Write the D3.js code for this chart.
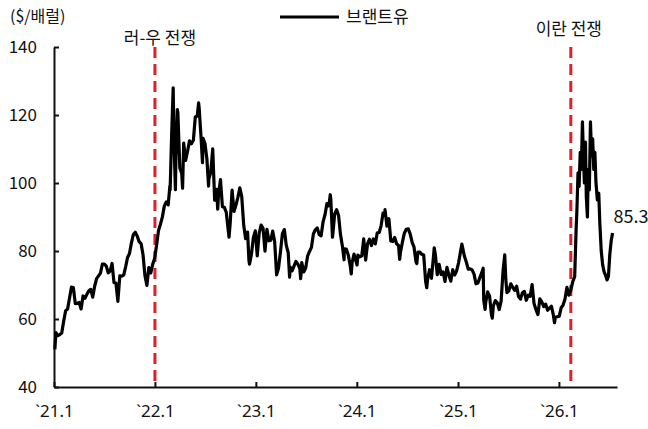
<!DOCTYPE html>
<html>
<head>
<meta charset="utf-8">
<script src="https://cdn.jsdelivr.net/npm/d3@7"></script>
<style>
  body { margin: 0; background: #fff; }
  svg { display: block; font-family: "Noto Sans CJK KR", "Noto Sans", sans-serif; }
</style>
</head>
<body>
<div id="chart"></div>
<script>
// weekly Brent closes ($/bbl), Fridays from 2021-01-08 on, 52 per year
var brent2021 = [55.99, 55.10, 55.41, 55.88, 59.34, 62.43, 62.91, 66.13, 69.36, 69.22, 64.53, 64.57,
  64.86, 62.95, 66.77, 66.11, 67.25, 68.28, 68.71, 66.44, 69.63, 71.89, 72.69, 73.51, 76.18,
  76.17, 75.55, 73.59, 74.10, 76.33, 70.70, 70.59, 65.18, 72.70, 72.61, 72.92, 75.34, 78.09,
  79.28, 82.39, 84.86, 85.53, 84.38, 82.74, 82.17, 78.89, 72.72, 69.88, 75.15, 73.52, 76.14, 77.78];
var brent2022 = [81.75, 86.06, 87.89, 90.03, 93.27, 94.44, 93.54, 97.93, 118.11, 112.67, 107.93, 120.65,
  104.39, 102.78, 111.70, 106.65, 109.34, 112.39, 111.55, 112.55, 119.43, 119.72, 122.01, 113.12, 113.12,
  111.63, 107.02, 101.16, 103.20, 110.01, 94.92, 98.15, 96.72, 100.99, 93.02, 92.84, 91.35, 86.15, 87.96,
  97.92, 91.63, 93.50, 95.77, 98.57, 95.99, 87.62, 83.63, 85.57, 76.10, 79.04, 83.92, 85.91];
var brent2023 = [78.57, 85.28, 87.63, 86.66, 79.94, 86.39, 83.00, 83.16, 85.83, 82.78, 72.97, 74.99, 79.77,
  85.12, 86.31, 81.66, 79.54, 75.30, 74.17, 75.58, 76.95, 76.13, 74.79, 76.61, 73.85, 74.90,
  78.47, 79.87, 81.07, 84.99, 86.24, 86.81, 84.80, 84.48, 88.55, 90.65, 93.93, 93.27, 95.31,
  84.58, 90.89, 92.16, 90.48, 84.89, 81.43, 80.61, 80.58, 78.88, 75.84, 76.55, 79.07, 77.04];
var brent2024 = [78.76, 78.29, 78.56, 83.55, 77.33, 82.19, 83.47, 81.62, 83.55, 82.08, 85.34, 85.43, 87.48,
  91.17, 90.45, 87.29, 89.50, 82.96, 82.79, 83.98, 82.12, 81.62, 79.62, 82.62, 85.24, 86.41,
  86.54, 85.03, 82.63, 81.13, 76.81, 79.66, 79.68, 79.02, 78.80, 71.06, 71.61, 74.49, 71.98,
  78.05, 79.04, 73.06, 76.05, 73.10, 73.87, 71.04, 75.17, 72.94, 71.12, 74.49, 72.94, 74.17];
var brent2025 = [76.51, 79.76, 81.29, 78.50, 76.76, 74.66, 74.74, 74.43, 73.18, 70.36, 70.58, 72.16, 73.63,
  65.58, 64.76, 67.96, 66.87, 61.29, 63.91, 65.41, 64.78, 62.78, 65.34, 74.23, 77.01, 67.77,
  68.30, 70.36, 69.28, 68.44, 69.67, 66.59, 65.85, 67.73, 68.12, 65.50, 66.99, 66.68, 70.13,
  64.53, 62.73, 61.29, 65.94, 65.07, 63.63, 64.39, 62.56, 63.20, 63.75, 61.12, 60.47, 60.64];

// in-between days that the weekly closes miss (spikes and dips)
var brentDays = [
  ["2021-01-04", 51.09], ["2022-02-24", 99.08], ["2022-03-02", 112.93], ["2022-03-08", 127.98],
  ["2022-03-16", 98.02], ["2022-03-23", 121.60], ["2022-04-11", 98.48], ["2022-06-08", 123.58],
  ["2022-06-22", 106.0], ["2022-07-14", 99.10], ["2022-08-16", 92.34], ["2022-09-26", 84.06],
  ["2022-12-07", 77.17], ["2023-03-20", 73.79], ["2023-05-03", 72.33], ["2023-06-12", 71.84],
  ["2023-09-27", 96.55], ["2023-10-05", 84.07], ["2023-11-16", 77.42], ["2023-12-12", 73.24],
  ["2024-01-02", 75.89], ["2024-04-12", 92.18], ["2024-06-04", 77.52], ["2024-08-05", 76.30],
  ["2024-09-10", 69.19], ["2024-10-07", 80.93], ["2025-01-15", 82.03], ["2025-04-02", 74.95],
  ["2025-04-09", 62.82], ["2025-05-05", 60.23], ["2025-06-19", 78.85], ["2025-06-23", 71.48],
  ["2025-12-16", 58.92]
];

var brent2026 = [
  ["2026-01-02", 60.8], ["2026-01-09", 63.3], ["2026-01-16", 64.1], ["2026-01-23", 65.9],
  ["2026-01-30", 69.3], ["2026-02-06", 67.0], ["2026-02-13", 68.5], ["2026-02-20", 71.0],
  ["2026-02-27", 72.5], ["2026-03-04", 86.0], ["2026-03-07", 92.0], ["2026-03-11", 103.0],
  ["2026-03-15", 99.0], ["2026-03-19", 109.0], ["2026-03-23", 104.0], ["2026-03-27", 118.0],
  ["2026-03-31", 107.0], ["2026-04-03", 100.0], ["2026-04-07", 112.0], ["2026-04-10", 96.0],
  ["2026-04-14", 90.0], ["2026-04-17", 104.0], ["2026-04-21", 98.0], ["2026-04-25", 118.0],
  ["2026-04-29", 108.0], ["2026-05-03", 113.0], ["2026-05-07", 104.0], ["2026-05-11", 109.0],
  ["2026-05-15", 100.0], ["2026-05-20", 95.0], ["2026-05-25", 97.0], ["2026-05-29", 88.0],
  ["2026-06-03", 80.0], ["2026-06-08", 76.0], ["2026-06-13", 74.0], ["2026-06-18", 73.0],
  ["2026-06-24", 71.5], ["2026-06-29", 72.5], ["2026-07-04", 79.0], ["2026-07-09", 83.0],
  ["2026-07-14", 85.3]
];

var yTicks = [40, 60, 80, 100, 120, 140];
var xTicks = ["2021-01-01", "2022-01-01", "2023-01-01", "2024-01-01", "2025-01-01", "2026-01-01"];
var wars = [["2022-01-01", "러-우 전쟁"], ["2026-02-13", "이란 전쟁"]];
var unitLabel = "($/배럴)";
var seriesName = "브랜트유";

var parse = d3.timeParse("%Y-%m-%d");

var width = 648,
    height = 429;

// put all the values on one date line
var weekly = brent2021.concat(brent2022, brent2023, brent2024, brent2025);
var start = parse("2021-01-08");
var data = weekly.map(function(v, i) { return { date: d3.timeDay.offset(start, i * 7), value: v }; });
brentDays.concat(brent2026).forEach(function(d) { data.push({ date: parse(d[0]), value: d[1] }); });
data.sort(function(a, b) { return a.date - b.date; });

var x = d3.scaleTime()
    .domain([parse("2021-01-01"), parse("2026-07-30")])
    .range([54, 617]);

var y = d3.scaleLinear()
    .domain([40, 140])
    .range([387, 47]);

var svg = d3.select("#chart").append("svg")
    .attr("width", width)
    .attr("height", height);

// axes
var yAxis = svg.append("g")
    .attr("transform", "translate(54,0)")
    .call(d3.axisLeft(y).tickValues(yTicks).tickSizeInner(-5).tickSizeOuter(0).tickPadding(17));

var xAxis = svg.append("g")
    .attr("transform", "translate(0,387)")
    .call(d3.axisBottom(x)
      .tickValues(xTicks.map(parse))
      .tickSizeInner(-5).tickSizeOuter(0).tickPadding(18)
      .tickFormat(function(d) { return "`" + d3.timeFormat("%y")(d) + "." + (d.getMonth() + 1); }));

svg.selectAll(".domain, .tick line")
    .attr("stroke", "#111")
    .attr("stroke-width", 2);

yAxis.selectAll(".tick text")
    .attr("fill", "#111")
    .style("font-size", "17px")
    .style("font-family", "\"Noto Sans CJK KR\", sans-serif");

// latin font keeps the backtick tight to the year
xAxis.selectAll(".tick text")
    .attr("fill", "#111")
    .style("font-size", "17px")
    .style("font-family", "\"Noto Sans\", sans-serif");

// war markers
var labelY = [44, 35];
var labelShift = [5, -2];
wars.forEach(function(w, i) {
  var wx = x(parse(w[0]));
  svg.append("line")
      .attr("x1", wx).attr("x2", wx)
      .attr("y1", y(140)).attr("y2", y(40))
      .attr("stroke", "#d9232a")
      .attr("stroke-width", 3)
      .attr("stroke-dasharray", "11,6");
  svg.append("text")
      .attr("x", wx + labelShift[i])
      .attr("y", labelY[i])
      .attr("text-anchor", "middle")
      .style("font-size", "17px")
      .attr("fill", "#111")
      .text(w[1]);
});

// price line
var line = d3.line()
    .x(function(d) { return x(d.date); })
    .y(function(d) { return y(d.value); });

svg.append("path")
    .datum(data)
    .attr("fill", "none")
    .attr("stroke", "#000")
    .attr("stroke-width", 3.2)
    .attr("stroke-linejoin", "round")
    .attr("d", line);

// last value
var last = data[data.length - 1];
svg.append("text")
    .attr("x", x(last.date) + 1)
    .attr("y", y(last.value) - 10)
    .style("font-size", "18px")
    .attr("fill", "#111")
    .text(last.value.toFixed(1));

// unit + legend
svg.append("text")
    .attr("x", 10)
    .attr("y", 22)
    .style("font-size", "16px")
    .attr("fill", "#111")
    .text(unitLabel);

svg.append("line")
    .attr("x1", 280).attr("x2", 339)
    .attr("y1", 17).attr("y2", 17)
    .attr("stroke", "#000")
    .attr("stroke-width", 3);

svg.append("text")
    .attr("x", 346)
    .attr("y", 23)
    .style("font-size", "17px")
    .attr("fill", "#111")
    .text(seriesName);
</script>
</body>
</html>
